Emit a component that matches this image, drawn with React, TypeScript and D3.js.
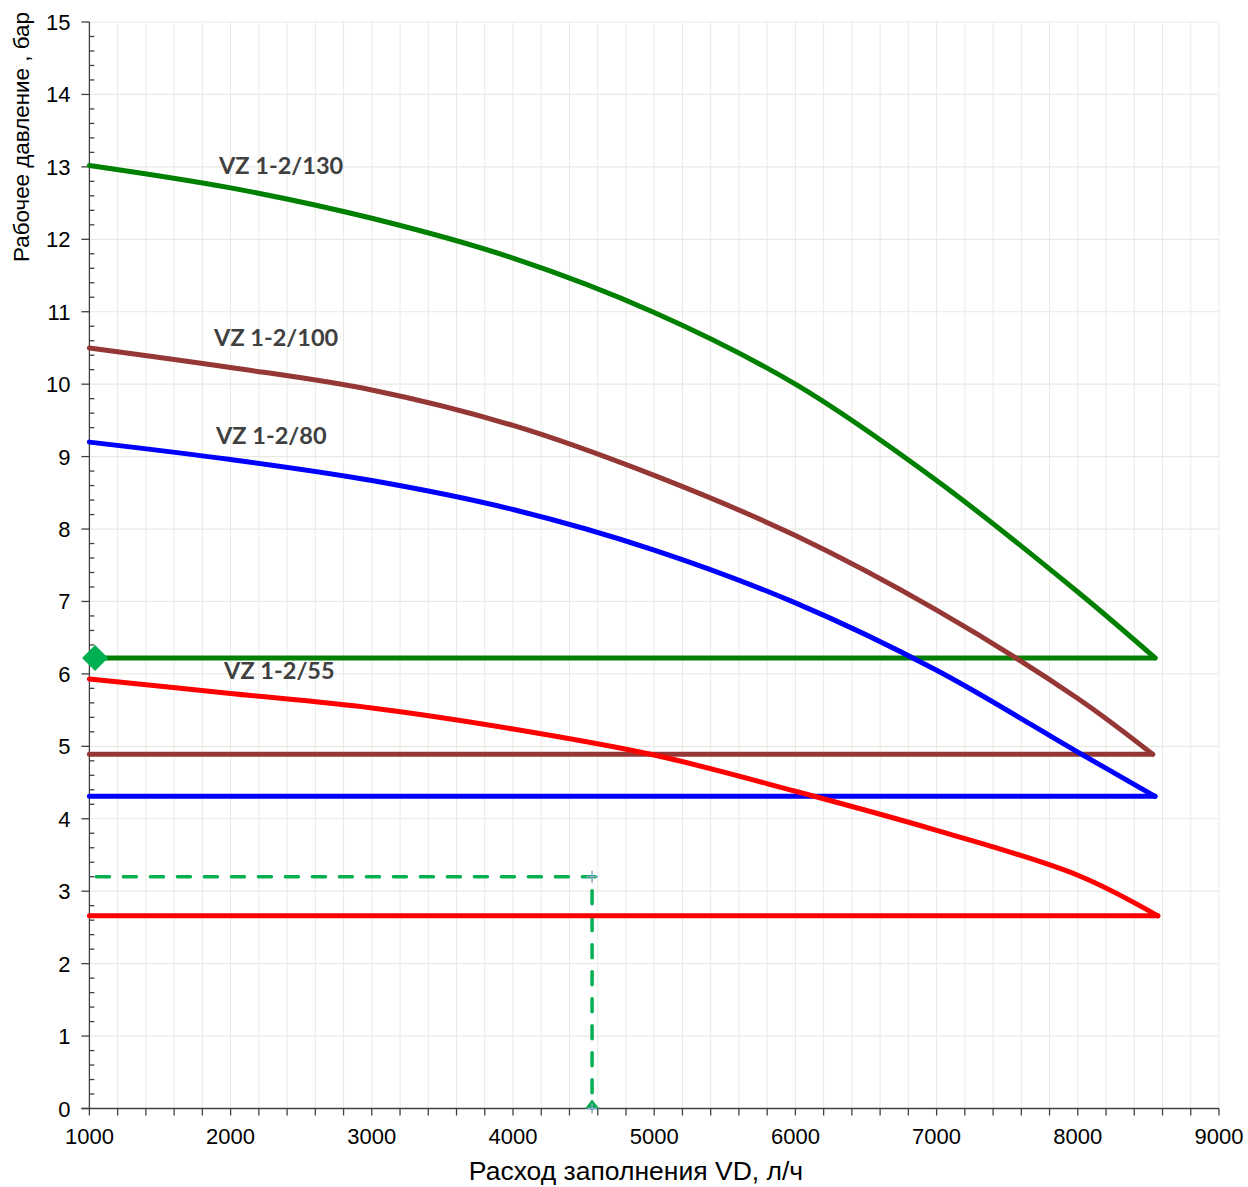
import React from "react";
import * as d3 from "d3";

// ---- data ----
const flowX = [1000, 2000, 3000, 4000, 5000, 6000, 7000, 8000];
const p130 = [13.02, 12.71, 12.29, 11.74, 10.99, 10.0, 8.67, 7.13];
const p100 = [10.5, 10.23, 9.92, 9.43, 8.74, 7.91, 6.88, 5.66];
const p80 = [9.2, 8.96, 8.67, 8.27, 7.71, 6.98, 6.05, 4.92];
const p55 = [5.93, 5.73, 5.53, 5.24, 4.88, 4.38, 3.84, 3.22];
const endX = [8547, 8530, 8547, 8567];
const endP = [6.22, 4.89, 4.31, 2.66];
const seriesNames = ["VZ 1-2/130", "VZ 1-2/100", "VZ 1-2/80", "VZ 1-2/55"];
const seriesColors = ["#008000", "#953735", "#0000ff", "#ff0000"];
const labelX = [1918, 1883, 1897, 1954];
const labelP = [13.02, 10.65, 9.3, 6.05];
const xTicks = [1000, 2000, 3000, 4000, 5000, 6000, 7000, 8000, 9000];
const yTicks = [0, 1, 2, 3, 4, 5, 6, 7, 8, 9, 10, 11, 12, 13, 14, 15];
const workX = 4560;
const workP = 3.2;
const markerX = 1040;
const markerP = 6.22;

const W = 1248;
const H = 1187;
const L = 89.4, R = 1219, T = 22, B = 1108.5;

export default function App() {
  const x = d3.scaleLinear().domain([1000, 9000]).range([L, R]);
  const y = d3.scaleLinear().domain([0, 15]).range([B, T]);
  const allP = [p130, p100, p80, p55];

  const curveGen = d3
    .line<[number, number]>()
    .x((d) => x(d[0]))
    .y((d) => y(d[1]))
    .curve(d3.curveCatmullRom.alpha(0.5));
  const lin = d3
    .line<[number, number]>()
    .x((d) => x(d[0]))
    .y((d) => y(d[1]));

  const minorX = d3.range(1200, 9001, 200);
  const minorY = d3.range(0, 15.001, 0.2);

  const axisFont = "'Liberation Sans', Arial, sans-serif";

  return (
    <svg
      width={W}
      height={H}
      style={{ position: "absolute", left: 0, top: 0, background: "#fff" }}
    >
      <rect x={0} y={0} width={W} height={H} fill="#fff" />
      {/* grid */}
      <g>
        {minorX.map((v) => (
          <line key={"gx" + v} x1={x(v)} x2={x(v)} y1={T} y2={B} stroke="#e9e9e4" strokeWidth={1} />
        ))}
        {yTicks.slice(1).map((v) => (
          <line key={"gy" + v} x1={L} x2={R} y1={y(v)} y2={y(v)} stroke="#e9e9e4" strokeWidth={1.2} />
        ))}
      </g>
      {/* axes */}
      <g stroke="#404040" strokeWidth={1.3}>
        <line x1={L} x2={L} y1={T} y2={B} />
        <line x1={L - 8} x2={R} y1={B} y2={B} />
        {minorY.map((v, i) =>
          i % 5 === 0 ? (
            <line key={"ty" + i} x1={L - 8} x2={L} y1={y(v)} y2={y(v)} />
          ) : (
            <line key={"ty" + i} x1={L} x2={L + 5} y1={y(v)} y2={y(v)} />
          )
        )}
        {[1000, ...minorX].map((v) => (
          <line key={"tx" + v} x1={x(v)} x2={x(v)} y1={B} y2={B + 7} />
        ))}
      </g>
      <g fontFamily={axisFont} fontSize={22} fill="#000">
        {xTicks.map((v) => (
          <text key={"lx" + v} x={x(v)} y={B + 35} textAnchor="middle">
            {v}
          </text>
        ))}
        {yTicks.map((v) => (
          <text key={"ly" + v} x={L - 19} y={y(v) + 8} textAnchor="end">
            {v}
          </text>
        ))}
      </g>
      <text
        transform={`translate(${29},${137}) rotate(-90)`}
        textAnchor="middle"
        fontFamily={axisFont}
        fontSize={22.4}
        fill="#000"
      >
        Рабочее давление , бар
      </text>
      <text
        x={636}
        y={1180}
        textAnchor="middle"
        fontFamily={axisFont}
        fontSize={26.5}
        fill="#000"
      >
        Расход заполнения VD, л/ч
      </text>

      {/* working point dashed lines */}
      <path
        d={lin([
          [1000, workP],
          [workX, workP],
        ]) || ""}
        fill="none"
        stroke="#00b050"
        strokeWidth={3.5}
        strokeDasharray="13 14"
        strokeLinecap="round"
        transform="translate(7,0)"
      />
      <path
        d={lin([
          [workX, workP],
          [workX, 0],
        ]) || ""}
        fill="none"
        stroke="#00b050"
        strokeWidth={3.5}
        strokeDasharray="13 14"
        strokeDashoffset={-14}
        strokeLinecap="round"
      />

      {/* series */}
      {allP.map((ps, i) => {
        const pts: [number, number][] = flowX.map((fx, j) => [fx, ps[j]]);
        pts.push([endX[i], endP[i]]);
        return (
          <g key={"s" + i}>
            <path
              d={curveGen(pts) || ""}
              fill="none"
              stroke={seriesColors[i]}
              strokeWidth={5}
              strokeLinejoin="round"
              strokeLinecap="round"
            />
            <path
              d={lin([
                [endX[i], endP[i]],
                [1000, endP[i]],
              ]) || ""}
              fill="none"
              stroke={seriesColors[i]}
              strokeWidth={5}
              strokeLinecap="round"
            />
          </g>
        );
      })}

      {/* markers */}
      <path
        d={`M${x(markerX)},${y(markerP) - 13} L${x(markerX) + 13},${y(markerP)} L${x(markerX)},${y(markerP) + 13} L${x(markerX) - 13},${y(markerP)} Z`}
        fill="#00b050"
      />
      <path
        d={`M${x(workX) - 7},${y(0)} L${x(workX)},${y(0) - 9} L${x(workX) + 7},${y(0)} Z`}
        fill="#00b050"
      />
      <g stroke="#8fa3c8" strokeWidth={1.5}>
        <line x1={x(workX) - 6} x2={x(workX) + 6} y1={y(workP)} y2={y(workP)} />
        <line x1={x(workX)} x2={x(workX)} y1={y(workP) - 6} y2={y(workP) + 6} />
        <line x1={x(workX) - 5} x2={x(workX) + 5} y1={y(0)} y2={y(0)} />
        <line x1={x(workX)} x2={x(workX)} y1={y(0) - 5} y2={y(0) + 5} />
      </g>

      {/* labels */}
      <g fontFamily="Lato, 'Open Sans', sans-serif" fontWeight={700} fontSize={23.5} fill="#404040">
        {seriesNames.map((n, i) => (
          <text key={"n" + i} x={x(labelX[i])} y={y(labelP[i]) + 9}>
            {n}
          </text>
        ))}
      </g>
    </svg>
  );
}
